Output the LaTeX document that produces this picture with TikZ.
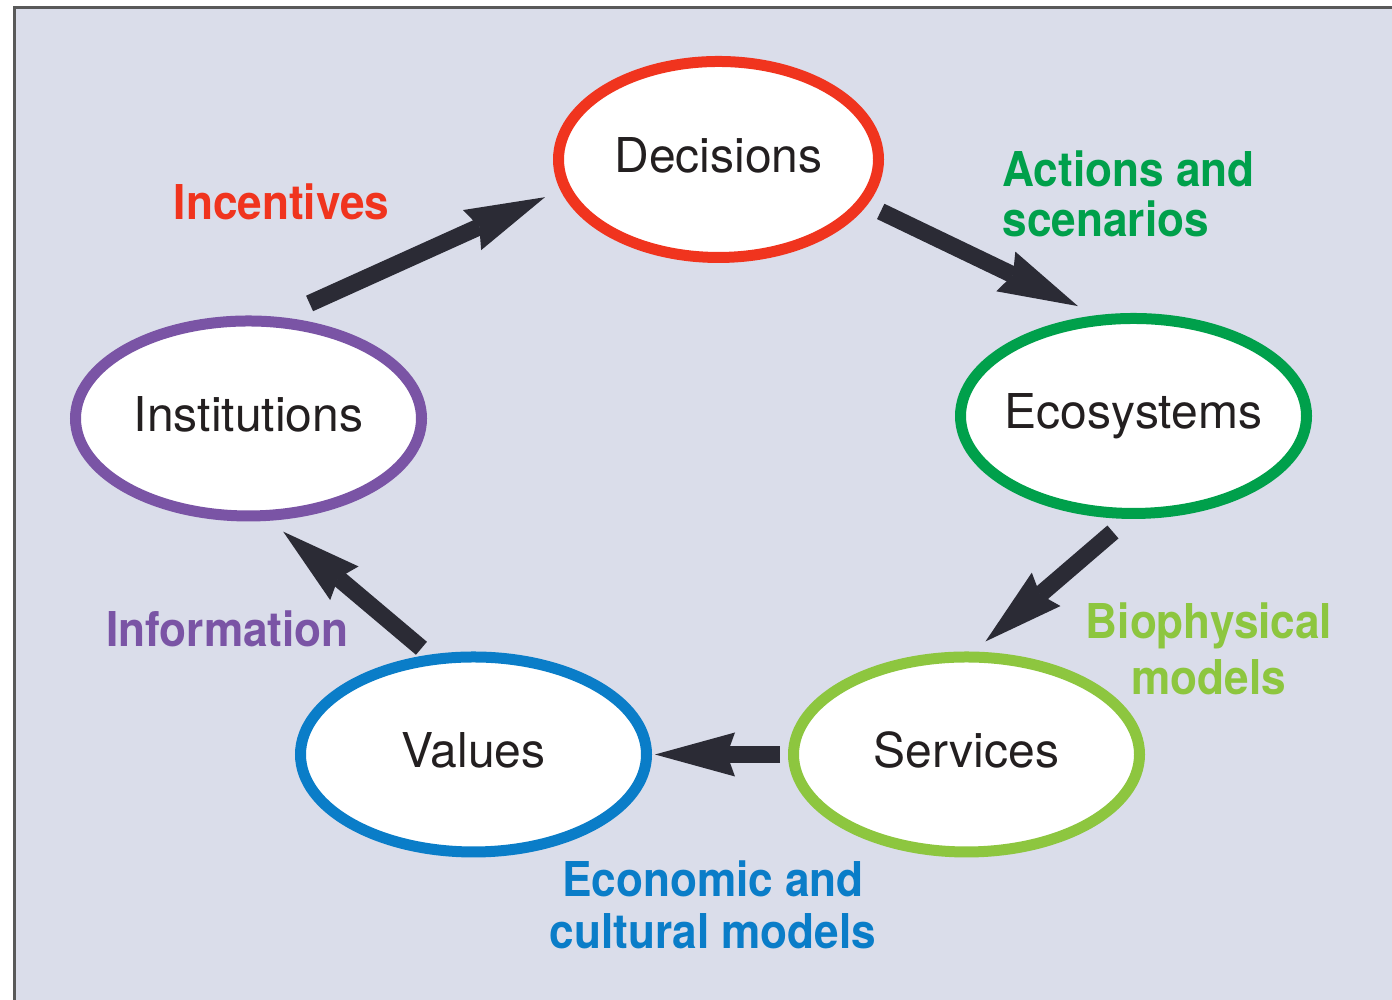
\documentclass[tikz,border=0pt]{standalone}
\usepackage{fontspec}
\setmainfont{TeX Gyre Heros}
\newfontfamily\lblfamily[FakeStretch=0.92]{TeX Gyre Heros}
\usetikzlibrary{arrows.meta,
                shapes.geometric
            }

\definecolor{decred}{RGB}{240,52,30}
\definecolor{ecogreen}{RGB}{0,160,75}
\definecolor{serlime}{RGB}{141,198,63}
\definecolor{valblue}{RGB}{10,125,200}
\definecolor{instpurple}{RGB}{122,84,165}
\definecolor{panel}{RGB}{218,221,234}
\definecolor{arrowgrey}{RGB}{43,43,53}
\definecolor{inkgrey}{RGB}{35,31,32}

\tikzset{
    ring/.style={ellipse, draw=#1, line width=0.11cm, fill=white,
        minimum width=3.46cm, minimum height=1.95cm, inner xsep=-0.2cm,
        text=inkgrey, font=\fontsize{13.66pt}{16pt}\selectfont,
        text height=0.35cm, text depth=0.09cm},
    flow/.style={line width=0.17cm, draw=arrowgrey,
        -{Stealth[length=0.8cm, width=0.44cm, inset=0.08cm, line width=0pt]}},
    tag/.style={text=#1, inner sep=0pt, align=center,
        font=\lblfamily\bfseries\fontsize{13.66pt}{14.8pt}\selectfont}
}

\begin{document}
\begin{tikzpicture}
            \useasboundingbox (0,0) rectangle (13.92,10);
            \fill[panel] (0.14,0) rectangle (13.92,9.92);
            \draw[line width=0.03cm, black!65] (0.14,0) -- (0.14,9.92) -- (13.92,9.92);

            \node[ring=decred, minimum width=3.20cm, minimum height=1.96cm] (dec) at (7.185,8.405) {Decisions};
            \node[ring=ecogreen] (eco) at (11.335,5.84) {Ecosystems};
            \node[ring=serlime] (ser) at (9.665,2.455) {Services};
            \node[ring=valblue] (val) at (4.735,2.455) {Values};
            \node[ring=instpurple] (inst) at (2.485,5.815) {Institutions};

            \draw[flow, shorten <=0.33cm, shorten >=0.17cm] (inst.73) -- (dec.191);
            \draw[flow, shorten <=0.15cm, shorten >=0.21cm] (dec.343) -- (eco.110);
            \draw[flow, shorten <=0.20cm, shorten >=0.155cm] (eco.267) -- (ser.86);
            \draw[flow, shorten <=0.08cm, shorten >=0.03cm] (ser.west) -- (val.east);
            \draw[flow, shorten <=0.10cm, shorten >=0.17cm] (val.114) -- (inst.282);

            \node[tag=decred, anchor=north] (incent) at (2.815,8.17) {Incentives};
            \node[tag=ecogreen, anchor=north west, align=left] (actions) at (10.02,8.50) {Actions and\\[-0.02cm]scenarios};
            \node[tag=serlime, anchor=north] (bio) at (12.09,3.98) {Biophysical\\[0.04cm]models};
            \node[tag=valblue, anchor=north] (econ) at (7.13,1.40) {Economic and\\cultural models};
            \node[tag=instpurple, anchor=north] (info) at (2.275,3.90) {Information};
        \end{tikzpicture}
\end{document}
